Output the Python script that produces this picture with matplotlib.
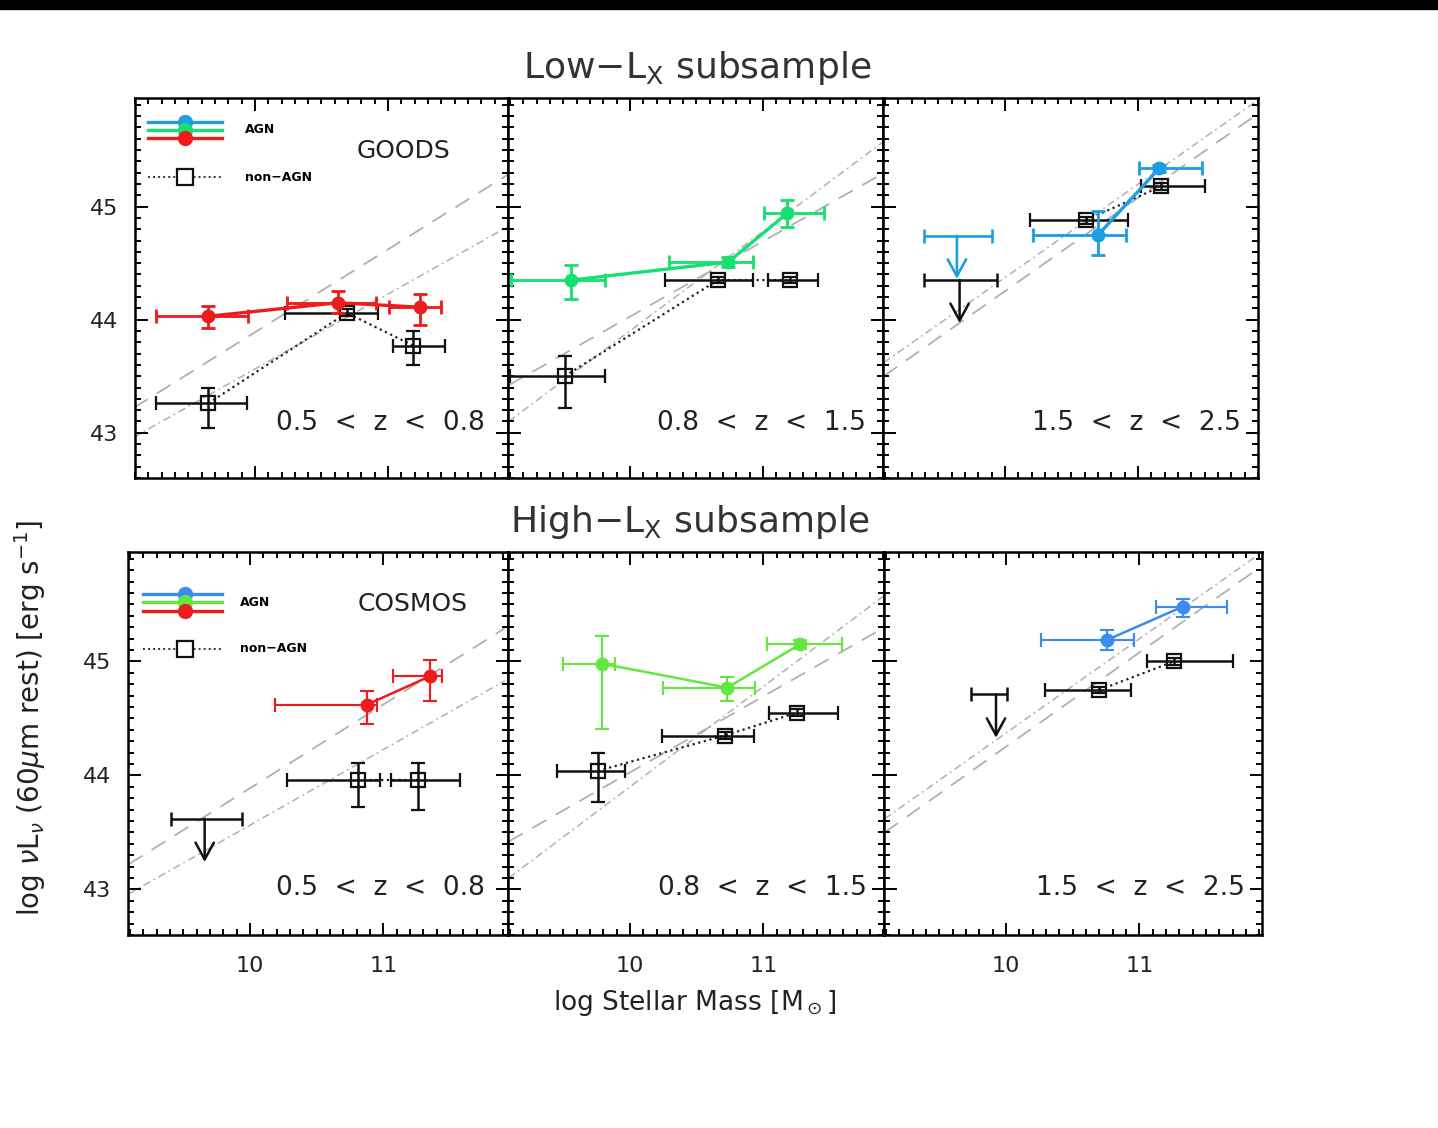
import matplotlib
matplotlib.use('Agg')
import matplotlib.pyplot as plt
from matplotlib.ticker import MultipleLocator, NullFormatter
from matplotlib.patches import Rectangle

plt.rcParams['font.family'] = ['DejaVu Sans']
plt.rcParams['mathtext.fontset'] = 'dejavusans'

# ---------------- DATA ----------------
# Low-Lx subsample (GOODS), 0.5<z<0.8
low1_agn_x = [9.65, 10.625, 11.24]
low1_agn_xlo = [9.26, 10.24, 11.01]
low1_agn_xhi = [9.95, 10.91, 11.40]
low1_agn_y = [44.03, 44.15, 44.11]
low1_agn_ylo = [43.93, 44.06, 43.95]
low1_agn_yhi = [44.12, 44.25, 44.23]
low1_non_x = [9.65, 10.69, 11.19]
low1_non_xlo = [9.26, 10.225, 11.04]
low1_non_xhi = [9.94, 10.925, 11.43]
low1_non_y = [43.26, 44.06, 43.77]
low1_non_ylo = [43.04, 44.03, 43.60]
low1_non_yhi = [43.40, 44.09, 43.90]

# Low-Lx, 0.8<z<1.5
low2_agn_x = [9.56, 10.74, 11.18]
low2_agn_xlo = [9.11, 10.29, 11.01]
low2_agn_xhi = [9.81, 10.925, 11.46]
low2_agn_y = [44.35, 44.51, 44.94]
low2_agn_ylo = [44.18, 44.47, 44.82]
low2_agn_yhi = [44.48, 44.55, 45.06]
low2_non_x = [9.51, 10.66, 11.20]
low2_non_xlo = [9.10, 10.26, 11.04]
low2_non_xhi = [9.81, 10.925, 11.41]
low2_non_y = [43.50, 44.35, 44.35]
low2_non_ylo = [43.22, 44.32, 44.32]
low2_non_yhi = [43.68, 44.38, 44.38]

# Low-Lx, 1.5<z<2.5
low3_agn_x = [10.70, 11.16]
low3_agn_xlo = [10.21, 11.01]
low3_agn_xhi = [10.91, 11.48]
low3_agn_y = [44.75, 45.34]
low3_agn_ylo = [44.57, 45.31]
low3_agn_yhi = [44.96, 45.37]
low3_agn_ul = [9.64, 9.39, 9.90, 44.74]      # x, xlo, xhi, y
low3_non_x = [10.61, 11.175]
low3_non_xlo = [10.19, 11.025]
low3_non_xhi = [10.925, 11.50]
low3_non_y = [44.88, 45.18]
low3_non_ylo = [44.85, 45.15]
low3_non_yhi = [44.91, 45.21]
low3_non_ul = [9.66, 9.39, 9.94, 44.35]

# High-Lx subsample (COSMOS), 0.5<z<0.8
high1_agn_x = [10.875, 11.35]
high1_agn_xlo = [10.19, 11.075]
high1_agn_xhi = [10.95, 11.44]
high1_agn_y = [44.62, 44.87]
high1_agn_ylo = [44.45, 44.65]
high1_agn_yhi = [44.74, 45.01]
high1_non_x = [10.81, 11.26]
high1_non_xlo = [10.275, 11.06]
high1_non_xhi = [10.975, 11.575]
high1_non_y = [43.96, 43.96]
high1_non_ylo = [43.72, 43.70]
high1_non_yhi = [44.11, 44.11]
high1_non_ul = [9.66, 9.41, 9.94, 43.62]

# High-Lx, 0.8<z<1.5
high2_agn_x = [9.79, 10.73, 11.275]
high2_agn_xlo = [9.50, 10.25, 11.025]
high2_agn_xhi = [9.89, 10.94, 11.59]
high2_agn_y = [44.98, 44.77, 45.15]
high2_agn_ylo = [44.41, 44.65, 45.11]
high2_agn_yhi = [45.22, 44.86, 45.19]
high2_non_x = [9.76, 10.71, 11.25]
high2_non_xlo = [9.45, 10.24, 11.04]
high2_non_xhi = [9.96, 10.93, 11.56]
high2_non_y = [44.04, 44.35, 44.55]
high2_non_ylo = [43.77, 44.32, 44.52]
high2_non_yhi = [44.20, 44.38, 44.58]

# High-Lx, 1.5<z<2.5
high3_agn_x = [10.76, 11.325]
high3_agn_xlo = [10.26, 11.125]
high3_agn_xhi = [10.96, 11.66]
high3_agn_y = [45.19, 45.48]
high3_agn_ylo = [45.10, 45.39]
high3_agn_yhi = [45.28, 45.55]
high3_non_x = [10.70, 11.26]
high3_non_xlo = [10.29, 11.06]
high3_non_xhi = [10.94, 11.70]
high3_non_y = [44.75, 45.00]
high3_non_ylo = [44.72, 44.97]
high3_non_yhi = [44.78, 45.03]
high3_non_ul = [9.925, 9.74, 10.01, 44.71]

# main-sequence reference lines (value at mass 9.09 and 11.91) per redshift bin
ms_mass = [9.09, 11.91]
ms_dashed = [[43.22, 45.29], [43.42, 45.30], [43.50, 45.83]]
ms_dashdot = [[42.96, 44.83], [43.10, 45.58], [43.62, 45.95]]

z_labels = ['0.5  <  z  <  0.8', '0.8  <  z  <  1.5', '1.5  <  z  <  2.5']
survey_labels = ['GOODS', 'COSMOS']
row_titles = [r'Low$-$L$_{\rm X}$ subsample', r'High$-$L$_{\rm X}$ subsample']
xticks = [10, 11]
yticks = [43, 44, 45]

# ---------------- STYLE / LAYOUT ----------------
W, H = 1438, 1128
fig = plt.figure(figsize=(W / 100, H / 100), dpi=100)
fig.add_artist(Rectangle((0, 1 - 9 / H), 1, 9 / H, transform=fig.transFigure,
                         color='black', zorder=10))

def rect(x0, x1, y0, y1):
    return [x0 / W, 1 - y1 / H, (x1 - x0) / W, (y1 - y0) / H]

top_cols = [(135, 508), (508, 883), (883, 1258)]
bot_cols = [(128, 508), (508, 884), (884, 1262)]
top_xlims = [(9.10, 11.90), (9.085, 11.90), (9.085, 11.90)]
bot_xlims = [(9.085, 11.935), (9.085, 11.905), (9.085, 11.92)]
YLIM = (42.6, 45.96)

RED = '#ee1c1c'
GREEN_T = '#16e070'
GREEN_B = '#62e83e'
BLUE_T = '#1e9ce4'
BLUE_B = '#3a8cee'
GREY = '#b0b0b0'
ARROW_LEN = 0.38

rows = [
    dict(cols=top_cols, xl=top_xlims, yr=(98, 478), lw=2.4,
         panels=[
             dict(c=RED, agn=(low1_agn_x, low1_agn_xlo, low1_agn_xhi, low1_agn_y, low1_agn_ylo, low1_agn_yhi),
                  non=(low1_non_x, low1_non_xlo, low1_non_xhi, low1_non_y, low1_non_ylo, low1_non_yhi),
                  agn_ul=None, non_ul=None),
             dict(c=GREEN_T, agn=(low2_agn_x, low2_agn_xlo, low2_agn_xhi, low2_agn_y, low2_agn_ylo, low2_agn_yhi),
                  non=(low2_non_x, low2_non_xlo, low2_non_xhi, low2_non_y, low2_non_ylo, low2_non_yhi),
                  agn_ul=None, non_ul=None),
             dict(c=BLUE_T, agn=(low3_agn_x, low3_agn_xlo, low3_agn_xhi, low3_agn_y, low3_agn_ylo, low3_agn_yhi),
                  non=(low3_non_x, low3_non_xlo, low3_non_xhi, low3_non_y, low3_non_ylo, low3_non_yhi),
                  agn_ul=low3_agn_ul, non_ul=low3_non_ul),
         ]),
    dict(cols=bot_cols, xl=bot_xlims, yr=(552, 935), lw=1.8,
         panels=[
             dict(c=RED, agn=(high1_agn_x, high1_agn_xlo, high1_agn_xhi, high1_agn_y, high1_agn_ylo, high1_agn_yhi),
                  non=(high1_non_x, high1_non_xlo, high1_non_xhi, high1_non_y, high1_non_ylo, high1_non_yhi),
                  agn_ul=None, non_ul=high1_non_ul),
             dict(c=GREEN_B, agn=(high2_agn_x, high2_agn_xlo, high2_agn_xhi, high2_agn_y, high2_agn_ylo, high2_agn_yhi),
                  non=(high2_non_x, high2_non_xlo, high2_non_xhi, high2_non_y, high2_non_ylo, high2_non_yhi),
                  agn_ul=None, non_ul=None),
             dict(c=BLUE_B, agn=(high3_agn_x, high3_agn_xlo, high3_agn_xhi, high3_agn_y, high3_agn_ylo, high3_agn_yhi),
                  non=(high3_non_x, high3_non_xlo, high3_non_xhi, high3_non_y, high3_non_ylo, high3_non_yhi),
                  agn_ul=None, non_ul=high3_non_ul),
         ]),
]


def errs(v, lo, hi):
    return [[a - b for a, b in zip(v, lo)], [c - a for a, c in zip(v, hi)]]


def draw_ul(ax, ul, color, lw):
    x, xlo, xhi, y = ul
    ax.errorbar([x], [y], xerr=[[x - xlo], [xhi - x]], fmt='none', ecolor=color,
                elinewidth=lw, capsize=5, capthick=lw, zorder=4)
    ax.annotate('', xy=(x, y - ARROW_LEN), xytext=(x, y),
                arrowprops=dict(arrowstyle='->,head_length=0.55,head_width=0.3',
                                color=color, lw=lw, shrinkA=0, shrinkB=0,
                                mutation_scale=22), zorder=4)


axes_rows = []
for r, row in enumerate(rows):
    y0, y1 = row['yr']
    row_axes = []
    for p, panel in enumerate(row['panels']):
        x0, x1 = row['cols'][p]
        ax = fig.add_axes(rect(x0, x1, y0, y1))
        ax.set_xlim(*row['xl'][p])
        ax.set_ylim(*YLIM)
        # reference lines
        ax.plot(ms_mass, ms_dashed[p], color=GREY, lw=1.3, dashes=(9, 6), zorder=1)
        ax.plot(ms_mass, ms_dashdot[p], color=GREY, lw=1.1, dashes=(5, 2.5, 1.2, 2.5), zorder=1)
        # non-AGN
        x, xlo, xhi, y, ylo, yhi = panel['non']
        ax.plot(x, y, color='#222222', lw=1.6, ls=(0, (1, 1.6)), zorder=2)
        ax.errorbar(x, y, xerr=errs(x, xlo, xhi), yerr=errs(y, ylo, yhi), fmt='s',
                    ms=10, mfc='none', mec='#111111', mew=1.6, ecolor='#111111',
                    elinewidth=1.8, capsize=5, capthick=1.8, zorder=3)
        if panel['non_ul'] is not None:
            draw_ul(ax, panel['non_ul'], '#111111', 1.8)
        # AGN
        x, xlo, xhi, y, ylo, yhi = panel['agn']
        c = panel['c']
        ax.plot(x, y, color=c, lw=row['lw'], zorder=5)
        ax.errorbar(x, y, xerr=errs(x, xlo, xhi), yerr=errs(y, ylo, yhi), fmt='o',
                    ms=9, color=c, ecolor=c, elinewidth=row['lw'] * 0.85,
                    capsize=5, capthick=row['lw'] * 0.85, zorder=6)
        if panel['agn_ul'] is not None:
            draw_ul(ax, panel['agn_ul'], c, 1.9)

        # ticks
        ax.set_xticks(xticks)
        ax.set_yticks(yticks)
        ax.xaxis.set_minor_locator(MultipleLocator(0.1))
        ax.yaxis.set_minor_locator(MultipleLocator(0.1))
        ax.tick_params(which='both', direction='in', top=True, right=True,
                       labelsize=16, width=1.4, labelcolor='#222222')
        ax.tick_params(which='major', length=9)
        ax.tick_params(which='minor', length=4.5)
        ax.tick_params(axis='x', pad=15)
        ax.tick_params(axis='y', pad=12)
        for s in ax.spines.values():
            s.set_linewidth(1.8)
        if p > 0:
            ax.yaxis.set_major_formatter(NullFormatter())
        if r == 0:
            ax.xaxis.set_major_formatter(NullFormatter())

        ax.text(0.938 if p == 0 else 0.955, 0.145 if r == 0 else 0.123, z_labels[p],
                transform=ax.transAxes, ha='right', va='center', fontsize=19,
                color='#222222')
        row_axes.append(ax)
    axes_rows.append(row_axes)

# survey labels and hand-drawn legends in the first panel of each row
leg_pos = [
    dict(x0=0.035, x1=0.233, xm=0.134, xt=0.295, ys=[0.937, 0.916, 0.895], yn=0.792,
         sx=0.72, sy=0.86),
    dict(x0=0.04, x1=0.247, xm=0.15, xt=0.295, ys=[0.890, 0.869, 0.846], yn=0.747,
         sx=0.75, sy=0.865),
]
leg_colors = [[BLUE_T, GREEN_T, RED], [BLUE_B, GREEN_B, RED]]
for r in range(2):
    ax = axes_rows[r][0]
    lp = leg_pos[r]
    for yy, cc in zip(lp['ys'], leg_colors[r]):
        ax.plot([lp['x0'], lp['x1']], [yy, yy], color=cc, lw=2.4, transform=ax.transAxes, zorder=7)
        ax.plot([lp['xm']], [yy], 'o', color=cc, ms=10, transform=ax.transAxes, zorder=8)
    ax.text(lp['xt'], lp['ys'][1], 'AGN', transform=ax.transAxes, fontsize=9,
            fontweight='bold', va='center', ha='left')
    ax.plot([lp['x0'], lp['x1']], [lp['yn'], lp['yn']], color='#333333', lw=1.4,
            ls=(0, (1, 1.6)), transform=ax.transAxes, zorder=7)
    ax.plot([lp['xm']], [lp['yn']], 's', mfc='white', mec='#111111', mew=1.6, ms=11,
            transform=ax.transAxes, zorder=8)
    ax.text(lp['xt'], lp['yn'], 'non\u2212AGN', transform=ax.transAxes, fontsize=9,
            fontweight='bold', va='center', ha='left')
    ax.text(lp['sx'], lp['sy'], survey_labels[r], transform=ax.transAxes, fontsize=18,
            ha='center', va='center', color='#222222')

fig.text(697 / W, 1 - 68 / H, row_titles[0], ha='center', va='center', fontsize=26,
         color='#333333')
fig.text(690 / W, 1 - 522 / H, row_titles[1], ha='center', va='center', fontsize=26,
         color='#333333')
fig.text(695 / W, 1 - 1003 / H, r'log Stellar Mass [M$_\odot$]', ha='center', va='center',
         fontsize=19, color='#222222')
fig.text(30 / W, 1 - 718 / H, r'log $\nu$L$_\nu$ (60$\mu$m rest) [erg s$^{-1}$]',
         ha='center', va='center', rotation=90, fontsize=20, color='#222222')

fig.savefig('out.png', dpi=100, facecolor='white')
